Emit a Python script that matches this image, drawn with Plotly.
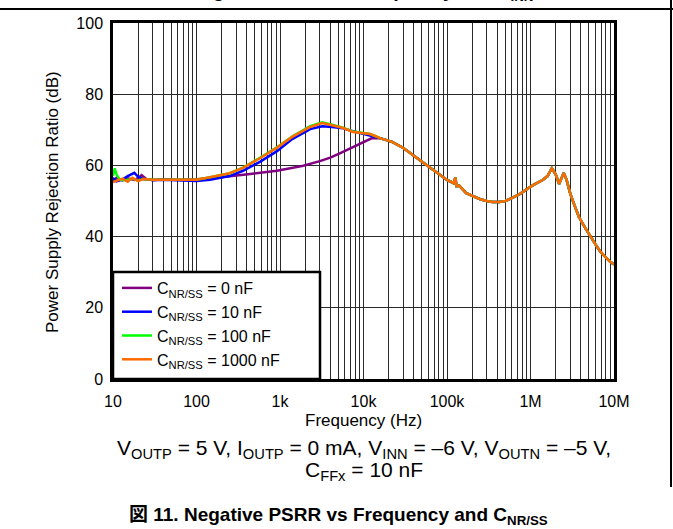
import plotly.graph_objects as go

# ---- data ----
# shared high-frequency tail (all four curves overlap above ~15 kHz)
tail_freq = [16e3, 22e3, 30e3, 39e3, 50e3, 63e3, 80e3, 100e3, 120e3, 126e3, 130e3, 140e3,
             170e3, 210e3, 250e3, 300e3, 350e3, 420e3, 500e3, 620e3, 750e3, 900e3,
             1.1e6, 1.4e6, 1.6e6, 1.8e6, 2.0e6, 2.2e6, 2.35e6, 2.5e6, 2.7e6, 3.0e6,
             3.4e6, 3.8e6, 4.5e6, 5.2e6, 6.0e6, 6.9e6, 8.0e6, 9.0e6, 10e6]
tail_db = [67.6, 66.6, 64.9, 62.9, 61.0, 59.2, 57.5, 55.9, 55.0, 56.6, 54.2, 54.3,
           52.2, 51.2, 50.5, 50.0, 49.7, 49.7, 50.0, 51.0, 52.0, 53.3,
           54.6, 55.9, 57.0, 59.2, 57.5, 54.8, 56.5, 57.9, 56.0, 52.0,
           48.5, 45.5, 42.5, 40.0, 37.8, 35.7, 34.2, 32.9, 32.2]

freq_0nF = [10, 11, 13, 15, 18, 20, 22, 25, 30, 40, 60, 100, 150, 250, 440, 920,
            1.9e3, 3e3, 4e3, 5.2e3, 7.5e3, 9.5e3, 11e3, 12.5e3, 14e3]
db_0nF = [55.2, 56.5, 55.8, 56.4, 55.9, 56.5, 57.3, 56.2, 55.8, 56.1, 56.0, 56.1, 56.4,
          56.9, 57.6, 58.5, 59.9, 61.2, 62.2, 63.4, 65.2, 66.3, 67.2, 67.6, 67.7]

freq_10nF = [10, 11, 13, 15, 18, 20, 23, 30, 40, 60, 100, 145, 250, 360, 575, 920,
             1.4e3, 2.3e3, 3.2e3, 4.2e3, 5.7e3, 7.5e3, 9.5e3, 12e3, 14e3]
db_10nF = [56.5, 55.5, 56.0, 57.0, 57.9, 56.8, 56.2, 55.9, 56.0, 55.8, 55.6, 56.0, 57.0,
           58.5, 61.0, 64.0, 67.4, 70.2, 71.0, 70.8, 70.4, 69.6, 69.0, 68.6, 68.0]

freq_100nF = [10, 10.5, 11, 12, 14, 17, 20, 23, 30, 40, 60, 100, 145, 250, 360, 575, 920,
              1.4e3, 2.3e3, 3.2e3, 4.2e3, 5.7e3, 7.5e3, 9.5e3, 12e3, 14e3]
db_100nF = [57.0, 59.2, 57.5, 56.0, 55.8, 56.3, 55.7, 56.2, 56.0, 56.0, 56.0, 56.0, 56.7,
            57.8, 59.4, 62.1, 65.1, 68.1, 71.0, 72.1, 71.4, 70.6, 69.5, 69.1, 68.8, 68.2]

freq_1000nF = [10, 11, 13, 15, 17, 20, 23, 30, 40, 60, 100, 145, 250, 360, 575, 920,
               1.4e3, 2.3e3, 3.2e3, 4.2e3, 5.7e3, 7.5e3, 9.5e3, 12e3, 14e3]
db_1000nF = [55.3, 55.6, 56.3, 55.4, 56.5, 55.6, 56.2, 56.0, 56.0, 56.0, 56.0, 56.7, 57.8,
             59.3, 62.0, 65.0, 68.0, 70.8, 71.9, 71.3, 70.5, 69.4, 69.0, 68.8, 68.2]

series_names = ["C<sub>NR/SS</sub> = 0 nF", "C<sub>NR/SS</sub> = 10 nF",
                "C<sub>NR/SS</sub> = 100 nF", "C<sub>NR/SS</sub> = 1000 nF"]
series_colors = ["#800080", "#0000ff", "#00ff00", "#ff6a00"]

major_ticks = [10, 100, 1e3, 1e4, 1e5, 1e6, 1e7]
major_labels = ["10", "100", "1k", "10k", "100k", "1M", "10M"]
y_ticks = [0, 20, 40, 60, 80, 100]

FONT = "Arial, Liberation Sans, sans-serif"

fig = go.Figure()
for name, color, f, d in zip(
    series_names,
    series_colors,
    [freq_0nF, freq_10nF, freq_100nF, freq_1000nF],
    [db_0nF, db_10nF, db_100nF, db_1000nF],
):
    fig.add_trace(
        go.Scatter(
            x=f + tail_freq,
            y=d + tail_db,
            mode="lines",
            name=name,
            line={"color": color, "width": 2.5},
        )
    )

# every 1..9 x decade gets a grid line, only decades get a label
tickvals = []
ticktext = []
for dec, lab in zip(major_ticks[:-1], major_labels[:-1]):
    for k in range(1, 10):
        tickvals.append(dec * k)
        ticktext.append(lab if k == 1 else "")
tickvals.append(major_ticks[-1])
ticktext.append(major_labels[-1])

axis_common = dict(
    showline=True,
    linecolor="black",
    linewidth=2.5,
    mirror=True,
    showgrid=True,
    gridcolor="#2a2a2a",
    gridwidth=1,
    ticks="",
    zeroline=False,
    tickfont={"family": FONT, "size": 16, "color": "black"},
)

fig.update_xaxes(
    type="log",
    range=[1, 7],
    tickmode="array",
    tickvals=tickvals,
    ticktext=ticktext,
    ticklabelstandoff=6,
    **axis_common,
)
fig.update_yaxes(
    range=[0, 100],
    tickmode="array",
    tickvals=y_ticks,
    ticklabelstandoff=4,
    **axis_common,
)


def py(p):
    # pixel row -> paper y (plot area spans rows 23..379)
    return (379 - p) / 356


def px(p):
    return (p - 113) / 501


annotations = [
    dict(x=px(52), y=py(202), text="Power Supply Rejection Ratio (dB)", textangle=-90,
         font={"size": 17}),
    dict(x=0.5, y=py(420), text="Frequency (Hz)", font={"size": 17}),
    dict(x=0.5, y=py(449),
         text="V<sub>OUTP</sub> = 5 V, I<sub>OUTP</sub> = 0 mA, V<sub>INN</sub> = \u20136 V, "
              "V<sub>OUTN</sub> = \u20135 V,",
         font={"size": 21}),
    dict(x=0.5, y=py(471), text="C<sub>FFx</sub> = 10 nF", font={"size": 21}),
    dict(x=px(338), y=py(516),
         text="<b>\u56f3 11. Negative PSRR vs Frequency and C<sub>NR/SS</sub></b>",
         font={"size": 19}),
    dict(x=px(338), y=py(-8),
         text="<b>\u56f3 9. Negative PSRR vs Frequency and V<sub>INN</sub></b>",
         font={"size": 19}),
]
for a in annotations:
    a.update(xref="paper", yref="paper", showarrow=False, xanchor="center", yanchor="middle")
    a["font"] = {"family": FONT + ", Noto Sans CJK JP", "color": "black", **a["font"]}

fig.update_layout(
    width=673,
    height=529,
    margin={"l": 113, "r": 59, "t": 23, "b": 150},
    paper_bgcolor="white",
    plot_bgcolor="white",
    font={"family": FONT, "color": "black"},
    annotations=annotations,
    showlegend=True,
    legend={
        "x": px(117),
        "y": py(377),
        "xanchor": "left",
        "yanchor": "bottom",
        "bgcolor": "rgba(0,0,0,0)",
        "borderwidth": 0,
        "font": {"family": FONT, "size": 16, "color": "black"},
        "tracegroupgap": 0,
    },
    shapes=[
        # legend box
        dict(type="rect", xref="paper", yref="paper", x0=0, x1=px(320),
             y0=0, y1=py(272), fillcolor="white", layer="above",
             line={"color": "black", "width": 2.5}),
        # frame of the datasheet figure box
        dict(type="rect", xref="paper", yref="paper", x0=px(0), x1=px(673),
             y0=py(10), y1=py(8), layer="above", fillcolor="black",
             line={"width": 0}),
        dict(type="line", xref="paper", yref="paper", x0=px(671), x1=px(671),
             y0=py(0), y1=py(487), layer="above", line={"color": "black", "width": 2}),
    ],
)

fig.write_html(
    "out.html",
    config={"displayModeBar": False},
    post_script="document.body.style.margin='0';document.body.style.overflow='hidden';",
)
